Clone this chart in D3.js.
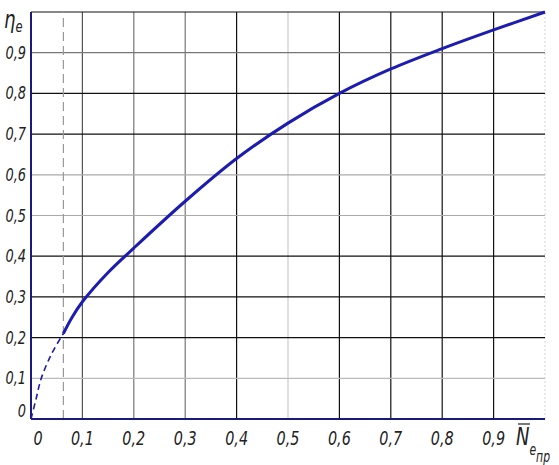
<!DOCTYPE html>
<html>
<head>
<meta charset="utf-8">
<script src="https://cdn.jsdelivr.net/npm/d3@7"></script>
<style>
  body { margin: 0; background: #fff; }
  svg { display: block; }
  text { font-family: "DejaVu Sans", sans-serif; font-style: italic; fill: #222; }
</style>
</head>
<body>
<div id="chart"></div>
<script>
// values
const xTicks = [0, 0.1, 0.2, 0.3, 0.4, 0.5, 0.6, 0.7, 0.8, 0.9];
const yTicks = [0, 0.1, 0.2, 0.3, 0.4, 0.5, 0.6, 0.7, 0.8, 0.9];
const xGrid = [0.1, 0.2, 0.3, 0.4, 0.5, 0.6, 0.7, 0.8, 0.9, 1.0];
const yGrid = [0.1, 0.2, 0.3, 0.4, 0.5, 0.6, 0.7, 0.8, 0.9, 1.0];
const markerX = 0.063;

const dashX = [0, 0.01, 0.02, 0.04, 0.063];
const dashY = [0, 0.05, 0.1, 0.16, 0.21];
const solidX = [0.063, 0.08, 0.1, 0.15, 0.2, 0.3, 0.4, 0.5, 0.6, 0.7, 0.8, 0.9, 1.0];
const solidY = [0.21, 0.25, 0.288, 0.36, 0.42, 0.535, 0.64, 0.727, 0.80, 0.86, 0.91, 0.956, 1.0];

const width = 559, height = 465;
const x = d3.scaleLinear().domain([0, 1]).range([31, 545]);
const y = d3.scaleLinear().domain([0, 1]).range([419, 12]);

const svg = d3.select('#chart').append('svg')
    .attr('width', width)
    .attr('height', height);

// grid shades vary like on the scanned drawing
function xShade(v) {
    if (v === 0.1) return '#555';
    if (v === 0.2 || v === 0.3) return '#777';
    if (v === 0.5) return '#ccc';
    if (v === 1.0) return '#ddd';
    return '#111';
}
function yShade(v) {
    if (v === 0.1) return '#bbb';
    if (v === 0.5 || v === 0.6) return '#aaa';
    if (v === 0.9) return '#777';
    return '#111';
}

svg.append('g')
    .selectAll('line')
    .data(xGrid)
    .enter().append('line')
    .attr('x1', d => x(d)).attr('x2', d => x(d))
    .attr('y1', y(0)).attr('y2', y(1))
    .attr('stroke', d => xShade(d))
    .attr('stroke-dasharray', d => d === 1.0 ? '2,2' : null)
    .attr('stroke-width', 1.2);

svg.append('g')
    .selectAll('line')
    .data(yGrid)
    .enter().append('line')
    .attr('x1', x(0)).attr('x2', x(1))
    .attr('y1', d => y(d)).attr('y2', d => y(d))
    .attr('stroke', d => yShade(d))
    .attr('stroke-width', 1.2);

// dashed marker line
svg.append('line')
    .attr('x1', x(markerX)).attr('x2', x(markerX))
    .attr('y1', y(0)).attr('y2', y(1))
    .attr('stroke', '#999')
    .attr('stroke-width', 1.2)
    .attr('stroke-dasharray', '9,5');

// axes
svg.append('line')
    .attr('x1', x(0)).attr('x2', x(0))
    .attr('y1', y(0)).attr('y2', y(1))
    .attr('stroke', '#1a1a7a').attr('stroke-width', 2);
svg.append('line')
    .attr('x1', x(0)).attr('x2', x(1))
    .attr('y1', y(0)).attr('y2', y(0))
    .attr('stroke', '#1a1a7a').attr('stroke-width', 2);

const line = d3.line()
    .x(d => x(d[0]))
    .y(d => y(d[1]))
    .curve(d3.curveCatmullRom);

svg.append('path')
    .datum(dashX.map((d, i) => [d, dashY[i]]))
    .attr('d', line)
    .attr('fill', 'none')
    .attr('stroke', '#1c1caa')
    .attr('stroke-width', 1.6)
    .attr('stroke-dasharray', '6,4');

svg.append('path')
    .datum(solidX.map((d, i) => [d, solidY[i]]))
    .attr('d', line)
    .attr('fill', 'none')
    .attr('stroke', '#1c1cb0')
    .attr('stroke-width', 3);

const fmt = v => v === 0 ? '0' : String(v).replace('.', ',');

// narrow drawing-style lettering: squeeze text horizontally
function label(px, py, size, anchor) {
    return svg.append('g')
        .attr('transform', `translate(${px},${py}) scale(0.72,1)`)
        .append('text')
        .attr('text-anchor', anchor)
        .style('font-size', size + 'px');
}

xTicks.forEach(d => {
    label(d === 0 ? x(d) + 7 : x(d), 445, 20, 'middle').text(fmt(d));
});
yTicks.forEach(d => {
    label(26, y(d) + (d === 0 ? -2 : 6), 18, 'end').text(fmt(d));
});

// axis titles
const yt = label(4, 28, 25, 'start');
yt.append('tspan').text('η');
yt.append('tspan').attr('dy', 4).style('font-size', '16px').text('e');

const xt = label(516, 445, 25, 'start');
xt.append('tspan').text('N');
xt.append('tspan').attr('dy', 10).style('font-size', '15px').text('e');
xt.append('tspan').attr('dy', 7).style('font-size', '15px').text('пр');
svg.append('line')
    .attr('x1', 518).attr('x2', 530)
    .attr('y1', 424).attr('y2', 424)
    .attr('stroke', '#222').attr('stroke-width', 1.2);
</script>
</body>
</html>
